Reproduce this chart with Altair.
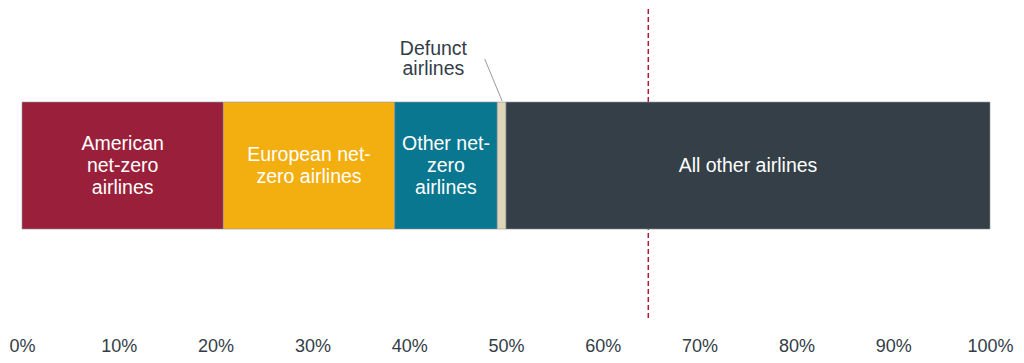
import altair as alt
import pandas as pd

# ---- data ----
segments = [
    "American net-zero airlines",
    "European net-zero airlines",
    "Other net-zero airlines",
    "Defunct airlines",
    "All other airlines",
]
segment_labels = [
    "American\nnet-zero\nairlines",
    "European net-\nzero airlines",
    "Other net-\nzero\nairlines",
    "",
    "All other airlines",
]
shares = [20.8, 17.7, 10.6, 0.9, 50.0]
colors = ["#9A1F3A", "#F3AE10", "#0A7790", "#DDD5B5", "#353F48"]
threshold = [64.7]
tick_values = [0, 10, 20, 30, 40, 50, 60, 70, 80, 90, 100]
annotation_text = ["Defunct\nairlines"]
annotation_x = [42.5]
leader_x = [47.8]
leader_x2 = [49.6]

# ---- tables ----
starts, ends, mids, nlines = [], [], [], []
acc = 0.0
for s, lab in zip(shares, segment_labels):
    starts.append(acc)
    ends.append(acc + s)
    mids.append(acc + s / 2)
    nlines.append(lab.count("\n") + 1 if lab else 0)
    acc += s
bars = pd.DataFrame({
    "segment": segments,
    "label": segment_labels,
    "start": starts,
    "end": ends,
    "mid": mids,
    "nlines": nlines,
    "row": ["airlines"] * len(segments),
})
rule_df = pd.DataFrame({"value": threshold})
ann_df = pd.DataFrame({"text": annotation_text, "x": annotation_x})
leader_df = pd.DataFrame({"x": leader_x, "x2": leader_x2})

font = "Liberation Sans"
line_h = 22
xscale = alt.Scale(domain=[0, 100], nice=False, zero=True)
yscale = alt.Scale(paddingOuter=0.728, paddingInner=0, align=0.503)

bar_layer = alt.Chart(bars).mark_bar(stroke="#8f969c", strokeWidth=0.6).encode(
    x=alt.X(
        "start:Q",
        scale=xscale,
        axis=alt.Axis(
            values=tick_values,
            labelExpr="datum.value + '%'",
            domain=False,
            ticks=False,
            grid=False,
            title=None,
            labelFont=font,
            labelFontSize=18,
            labelColor="#333D47",
            labelPadding=16,
            labelFlush=False,
        ),
    ),
    x2="end:Q",
    y=alt.Y("row:N", scale=yscale, axis=None),
    color=alt.Color("segment:N", scale=alt.Scale(domain=segments, range=colors), legend=None),
)


def label_layer(n):
    return alt.Chart(bars).transform_filter(
        alt.datum.nlines == n
    ).mark_text(
        color="white", font=font, fontSize=19.5, lineHeight=line_h, lineBreak="\n",
        align="center", baseline="middle", dy=-(n - 1) * line_h / 2,
    ).encode(
        x=alt.X("mid:Q", scale=xscale),
        y=alt.Y("row:N", scale=yscale, axis=None),
        text="label:N",
    )


rule_layer = alt.Chart(rule_df).mark_rule(
    color="#B0183C", strokeDash=[5, 3], strokeWidth=1.5
).encode(x=alt.X("value:Q", scale=xscale))

ann_layer = alt.Chart(ann_df).mark_text(
    color="#333D47", font=font, fontSize=19.5, lineHeight=20, lineBreak="\n",
    align="center", baseline="middle",
).encode(
    x=alt.X("x:Q", scale=xscale),
    y=alt.value(40),
    text="text:N",
)

leader_layer = alt.Chart(leader_df).mark_rule(color="#9a9a9a", strokeWidth=1).encode(
    x=alt.X("x:Q", scale=xscale),
    x2="x2:Q",
    y=alt.value(50),
    y2=alt.value(92),
)

chart = alt.layer(
    rule_layer, bar_layer, label_layer(1), label_layer(2), label_layer(3),
    leader_layer, ann_layer,
).properties(
    width=968,
    height=312,
    padding={"left": 0, "top": 0, "right": 0, "bottom": 0},
).configure_view(stroke=None)

chart.save("out.html", embed_options={"renderer": "svg", "actions": False})
